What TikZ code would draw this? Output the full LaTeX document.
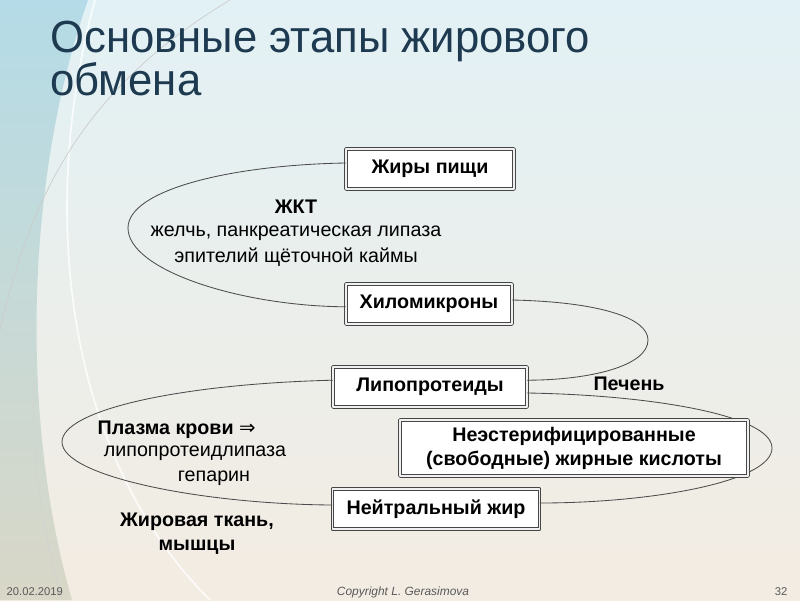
\documentclass[tikz,border=0pt]{standalone}
\usepackage{fontspec}
\setmainfont{Liberation Sans}
\newfontfamily\titlefont[FakeStretch=0.97]{Liberation Sans}
\newfontfamily\arrowfont{DejaVu Sans}
\definecolor{titleblue}{RGB}{30,58,80}
\definecolor{bgtop}{RGB}{226,241,245}
\definecolor{bgmid}{RGB}{249,249,245}
\definecolor{bgbot}{RGB}{243,236,226}
\definecolor{stripe}{RGB}{150,205,222}
\definecolor{stripebot}{RGB}{200,202,182}
\tikzset{
  stagebox/.style={draw=gray!55!black,double=gray!12,double distance=1.1pt,line width=0.7pt,
    fill=white,font=\bfseries\fontsize{14}{17}\selectfont,minimum height=1cm,inner sep=2pt},
  loop/.style={draw=black!70,line width=0.6pt},
  lbl/.style={font=\fontsize{14}{17}\selectfont,inner sep=1pt},
  blbl/.style={lbl,font=\bfseries\fontsize{14}{17}\selectfont},
  titleline/.style={anchor=base west,inner sep=0pt,text=titleblue,font=\titlefont\fontsize{32}{36}\selectfont},
  foot/.style={font=\fontsize{8}{9}\selectfont,text=gray!70!black,inner sep=1pt}
}
\begin{document}
\begin{tikzpicture}[x=0.025cm,y=-0.025cm,line join=round,line cap=round]
            \useasboundingbox (0,0) rectangle (800,600);
            % background
            \shade[top color=bgtop,middle color=bgmid,bottom color=bgbot] (0,0) rectangle (800,600);
            \shade[top color=stripe,bottom color=stripebot,opacity=0.6]
            (0,0) -- (88,0) .. controls (25,180) and (20,420) .. (72,600) -- (0,600) -- cycle;
            \draw[white,line width=1.2pt,opacity=0.8] (95,0) .. controls (40,200) and (60,450) .. (210,600);
            \draw[gray!40,line width=0.5pt] (230,0) .. controls (80,90) and (30,200) .. (0,330);
            \draw[gray!35,line width=0.5pt] (62,600) .. controls (40,520) and (30,450) .. (35,380);
            %title
            \node[titleline,text depth=0pt] (title) at (50,52) {Основные этапы жирового};
            \node[titleline,text height=0.7em] (title2) at (50,95) {обмена};
            % stages
            \node[stagebox,minimum width=4.2cm] (food) at (430,169) {Жиры пищи};
            \node[stagebox,minimum width=4.15cm] (chylo) at (429,304) {Хиломикроны};
            \node[stagebox,minimum width=4.85cm] (lipo) at (430,387) {Липопротеиды};
            \node[stagebox,minimum width=5.18cm] (neutral) at (436,509) {Нейтральный жир};
            % loops
            \draw[loop] ([yshift=0.15cm]food.west) .. controls (230,165) and (128,190) .. (128,228)
              .. controls (128,270) and (240,306) .. ([yshift=-0.07cm]chylo.west);
            \draw[loop] ([yshift=0.1cm]chylo.east) .. controls (600,302) and (648,318) .. (648,340)
              .. controls (648,366) and (590,380) .. ([yshift=0.17cm]lipo.east);
            \draw[loop] ([yshift=-0.15cm]lipo.east) .. controls (650,395) and (772,415) .. (772,448)
              .. controls (772,482) and (650,503) .. ([yshift=0.15cm]neutral.east);
            \draw[loop] ([yshift=0.17cm]lipo.west) .. controls (180,384) and (62,410) .. (62,442)
              .. controls (62,476) and (200,504) .. ([yshift=0.1cm]neutral.west);
            \node[stagebox,minimum width=8.7cm,minimum height=1.4cm,align=center] (nefa) at (574,448)
              {Неэстерифицированные\\(свободные) жирные кислоты};
            % labels
            \node[blbl] (gut) at (296,207) {ЖКТ};
            \node[lbl] (bile) at (296,233) {желчь, панкреатическая липаза};
            \node[lbl] (epith) at (296,257) {эпителий щёточной каймы};
            \node[blbl] (liver) at (629,384) {Печень};
            \node[blbl,anchor=west] (plasma) at (96,430) {Плазма крови {\arrowfont\mdseries ⇒}};
            \node[lbl] (lpl) at (195,453) {липопротеидлипаза};
            \node[lbl] (hep) at (214,478) {гепарин};
            \node[blbl,align=center] (tissue) at (197,534) {Жировая ткань,\\мышцы};
            % footer
            \node[foot,anchor=west] (date) at (5,592) {20.02.2019};
            \node[foot,font=\itshape\fontsize{8.5}{9}\selectfont] (copy) at (403,592) {Copyright L. Gerasimova};
            \node[foot,anchor=east] (page) at (789,592) {32};
\end{tikzpicture}
\end{document}
